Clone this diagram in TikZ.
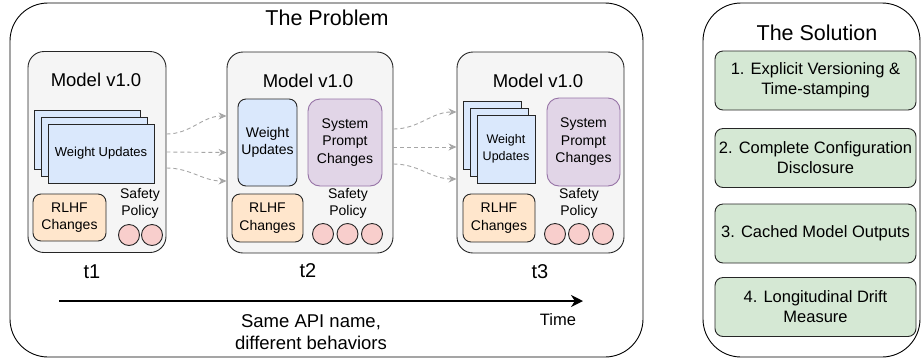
\documentclass[tikz,border=0pt]{standalone}
\usepackage{fontspec}
\setmainfont{Liberation Sans}
\usetikzlibrary{arrows.meta,positioning}

\definecolor{wblue}{HTML}{DAE8FC}
\definecolor{rorange}{HTML}{FFE6CC}
\definecolor{ppurple}{HTML}{E1D5E7}
\definecolor{pstroke}{HTML}{9673A6}
\definecolor{spink}{HTML}{F8CECC}
\definecolor{sgreen}{HTML}{D5E8D4}
\definecolor{mgray}{HTML}{F5F5F5}
\newcommand{\fsz}[2]{\fontsize{#1}{#2}\selectfont}

\begin{document}
\begin{tikzpicture}[x=1pt,y=-1pt,
    panel/.style={draw,rounded corners=38pt,line width=0.9pt,inner sep=0pt},
    model/.style={draw=black!85,fill=mgray,rounded corners=16pt,line width=0.9pt,minimum height=201pt},
    part/.style={draw=black!85,rounded corners=8pt,line width=0.9pt,align=center,inner sep=1pt,font=\fsz{14}{17.5}},
    sheet/.style={draw=black!85,fill=wblue,line width=0.9pt,inner sep=1pt,align=center},
    dot/.style={circle,draw=black!85,fill=spink,line width=0.9pt,minimum size=21pt,inner sep=0pt},
    fix/.style={part,fill=sgreen,minimum width=201pt,minimum height=59pt,font=\fsz{16.5}{20}},
    drift/.style={draw=black!35,dash pattern=on 4pt off 3pt,line width=0.9pt,-{Stealth[length=8pt,width=7pt]}},
    stamp/.style={font=\fsz{20}{24}}]
  \useasboundingbox (0,0) rectangle (922,360);

  % the problem
  \node[panel,minimum width=633pt,minimum height=354pt] (problem) at (326.5,180) {};
  \node[font=\fsz{21.5}{26}] (ptitle) at (327,18) {The Problem};

  \node[model,minimum width=138pt] (m1) at (97,152) {};
  \node[model,minimum width=166pt] (m2) at (310,152.5) {};
  \node[model,minimum width=167pt] (m3) at (540.5,152.5) {};
  \node[font=\fsz{18.5}{22}] (m1t) at (96,80) {Model v1.0};
  \node[font=\fsz{18.5}{22}] (m2t) at (308,81) {Model v1.0};
  \node[font=\fsz{18.5}{22}] (m3t) at (538,81) {Model v1.0};

  % t1
  \node[sheet,minimum width=106pt,minimum height=59pt] (w1a) at (87,139.5) {};
  \node[sheet,minimum width=106pt,minimum height=59pt] (w1b) at (94,146.5) {};
  \node[sheet,minimum width=106pt,minimum height=59pt,font=\fsz{13}{16}] (w1) at (101,153.5) {Weight Updates};
  \node[part,fill=rorange,minimum width=73pt,minimum height=47pt] (r1) at (69.5,217.5) {RLHF\\Changes};
  \node[align=center,font=\fsz{14}{17}] (s1) at (140,203) {Safety\\Policy};
  \node[dot] (c1a) at (129,235) {};
  \node[dot] (c1b) at (152,235) {};

  % t2
  \node[part,fill=wblue,minimum width=59pt,minimum height=87pt] (w2) at (267.5,142.5) {Weight\\Updates};
  \node[part,fill=ppurple,draw=pstroke,rounded corners=12pt,minimum width=74pt,minimum height=87pt] (p2) at (345,142.5) {System\\Prompt\\Changes};
  \node[part,fill=rorange,minimum width=71pt,minimum height=48pt] (r2) at (267.5,218) {RLHF\\Changes};
  \node[align=center,font=\fsz{14}{17}] (s2) at (348,203) {Safety\\Policy};
  \node[dot] (c2a) at (323,234) {};
  \node[dot] (c2b) at (347.5,234) {};
  \node[dot] (c2c) at (372,234) {};

  % t3
  \node[sheet,minimum width=58pt,minimum height=68pt] (w3a) at (492,135) {};
  \node[sheet,minimum width=58pt,minimum height=68pt] (w3b) at (499,142) {};
  \node[sheet,minimum width=58pt,minimum height=68pt,font=\fsz{12.5}{16.5}] (w3) at (506,149) {Weight\\Updates};
  \node[part,fill=ppurple,draw=pstroke,rounded corners=12pt,minimum width=73pt,minimum height=88pt] (p3) at (583.5,142) {System\\Prompt\\Changes};
  \node[part,fill=rorange,minimum width=72pt,minimum height=48pt] (r3) at (499,218) {RLHF\\Changes};
  \node[align=center,font=\fsz{14}{17}] (s3) at (579,203) {Safety\\Policy};
  \node[dot] (c3a) at (555,234) {};
  \node[dot] (c3b) at (579,234) {};
  \node[dot] (c3c) at (603,234) {};

  \draw[drift] ([yshift=18pt]m1.east) to[out=0,in=180] ([yshift=36.5pt]m2.west);
  \draw[drift] (m1.east) -- (m2.west);
  \draw[drift] ([yshift=-16pt]m1.east) to[out=0,in=180] ([yshift=-28.5pt]m2.west);
  \draw[drift] ([yshift=23.5pt]m2.east) to[out=0,in=180] ([yshift=40.5pt]m3.west);
  \draw[drift] ([yshift=5.5pt]m2.east) -- ([yshift=5.5pt]m3.west);
  \draw[drift] ([yshift=-11.5pt]m2.east) to[out=0,in=180] ([yshift=-26.5pt]m3.west);

  \node[stamp] (t1) at (92,272) {t1};
  \node[stamp] (t2) at (308,271) {t2};
  \node[stamp] (t3) at (540,272) {t3};

  \coordinate (tstart) at (59,301);
  \coordinate (tend) at (583,301);
  \draw[line width=2pt,-{Stealth[length=12pt,width=12pt]}] (tstart) -- (tend);
  \node[align=center,font=\fsz{18.5}{22.5}] (api) at (311,332) {Same API name,\\different behaviors};
  \node[font=\fsz{16.5}{20}] (time) at (558,320) {Time};

  % the solution
  \node[panel,minimum width=217pt,minimum height=354pt] (solution) at (811.5,180) {};
  \node[font=\fsz{21.5}{26}] (stitle) at (817,33) {The Solution};
  \node[fix] (f1) at (815.5,80.5) {1. Explicit Versioning \&\\Time-stamping};
  \node[fix] (f2) at (815.5,158) {2. Complete Configuration\\Disclosure};
  \node[fix] (f3) at (815.5,233.5) {3. Cached Model Outputs};
  \node[fix] (f4) at (815.5,307) {4. Longitudinal Drift\\Measure};
\end{tikzpicture}
\end{document}
